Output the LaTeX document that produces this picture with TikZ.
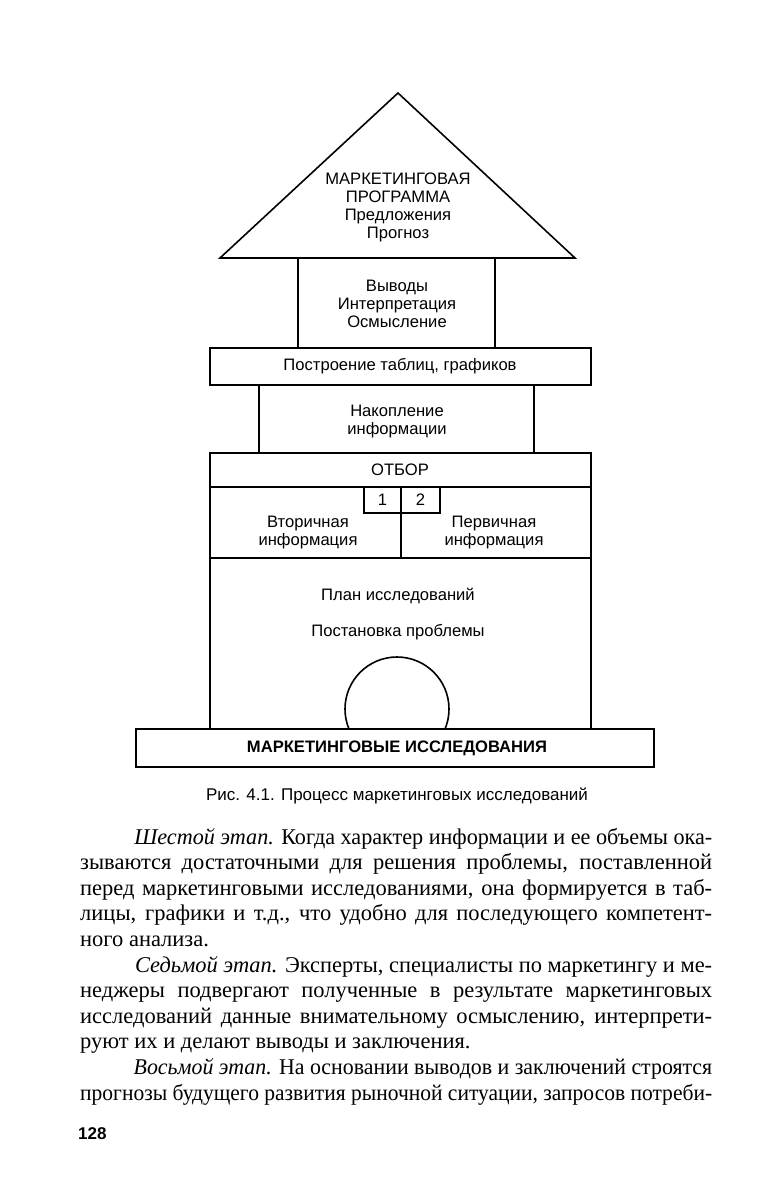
\documentclass[tikz,border=0pt]{standalone}
\usepackage{fontspec}
\setmainfont{Liberation Serif}
\newfontfamily\dsans{Liberation Sans}
\usepackage{graphicx}
\newlength\jw
\setlength\jw{632pt}
\newsavebox\jbox
\newcommand\jline[1]{\sbox\jbox{#1}\ifdim\wd\jbox>\jw\resizebox{\jw}{\height}{\usebox\jbox}\else\makebox[\jw][s]{#1}\fi}
\tikzset{
  ln/.style={line width=1.6pt, line cap=rect, line join=miter},
  dtext/.style={font=\dsans\fontsize{16.6}{18}\selectfont, align=center, inner sep=0pt},
  body/.style={font=\fontsize{22.5}{25}\selectfont, anchor=base west, inner sep=0pt},
}
\begin{document}
\begin{tikzpicture}[x=1pt,y=-1pt]
\useasboundingbox (0,0) rectangle (776,1178);
\fill[white] (0,0) rectangle (776,1178);
% roof
\draw[ln] (220,258) -- (398,93) -- (575,258) -- cycle;
% Vyvody box sides
\draw[ln] (298,258) -- (298,348) (495,258) -- (495,348);
% Postroenie
\draw[ln] (210,348) rectangle (591,385);
% Nakoplenie sides
\draw[ln] (259,385) -- (259,453) (534,385) -- (534,453);
% Otbor
\draw[ln] (210,453) rectangle (591,487);
% middle row
\draw[ln] (210,487) rectangle (591,558);
\draw[ln] (401,487) -- (401,558);
\draw[ln] (364,487) rectangle (401,513);
\draw[ln] (401,487) rectangle (440,513);
% lower sides
\draw[ln] (210,558) -- (210,729) (591,558) -- (591,729);
% circle
\begin{scope}
\clip (300,600) rectangle (500,729);
\draw[ln] (397,709) circle[radius=52pt];
\end{scope}
% base
\draw[ln] (136,729) rectangle (654,767);

% texts
\node[dtext] (t1) at (398,207) {МАРКЕТИНГОВАЯ\\ПРОГРАММА\\Предложения\\Прогноз};
\node[dtext] (t2) at (397,304) {Выводы\\Интерпретация\\Осмысление};
\node[dtext] (t3) at (400,366) {Построение таблиц, графиков};
\node[dtext] (t4) at (397,422) {Накопление\\информации};
\node[dtext] (t5) at (400,470) {ОТБОР};
\node[dtext] (n1) at (382.5,500) {1};
\node[dtext] (n2) at (420.5,500) {2};
\node[dtext] (t6) at (308,533) {Вторичная\\информация};
\node[dtext] (t7) at (494,533) {Первичная\\информация};
\node[dtext] (t8) at (398,596) {План исследований};
\node[dtext] (t9) at (398,632) {Постановка проблемы};
\node[dtext, font=\dsans\bfseries\fontsize{16.6}{18}\selectfont] (t10) at (397,748) {МАРКЕТИНГОВЫЕ ИССЛЕДОВАНИЯ};
\node[dtext, font=\dsans\fontsize{17}{20}\selectfont] (cap) at (397,796) {Рис. 4.1. Процесс маркетинговых исследований};

% body text
\node[body] (b1) at (80,844) {\jline{\hspace*{55pt}\textit{Шестой этап.} Когда характер информации и ее объемы ока-}};
\node[body] (b2) at (80,869.6) {\jline{зываются достаточными для решения проблемы, поставленной}};
\node[body] (b3) at (80,895.2) {\jline{перед маркетинговыми исследованиями, она формируется в таб-}};
\node[body] (b4) at (80,920.8) {\jline{лицы, графики и т.д., что удобно для последующего компетент-}};
\node[body] (b5) at (80,946.4) {ного анализа.};
\node[body] (b6) at (80,972) {\jline{\hspace*{55pt}\textit{Седьмой этап.} Эксперты, специалисты по маркетингу и ме-}};
\node[body] (b7) at (80,997.6) {\jline{неджеры подвергают полученные в результате маркетинговых}};
\node[body] (b8) at (80,1023.2) {\jline{исследований данные внимательному осмыслению, интерпрети-}};
\node[body] (b9) at (80,1048.8) {руют их и делают выводы и заключения.};
\node[body] (b10) at (80,1074.4) {\jline{\hspace*{55pt}\textit{Восьмой этап.} На основании выводов и заключений строятся}};
\node[body] (b11) at (80,1100) {\jline{прогнозы будущего развития рыночной ситуации, запросов потреби-}};
\node[body, font=\dsans\bfseries\fontsize{17}{20}\selectfont] (pg) at (78,1139) {128};
\end{tikzpicture}
\end{document}
